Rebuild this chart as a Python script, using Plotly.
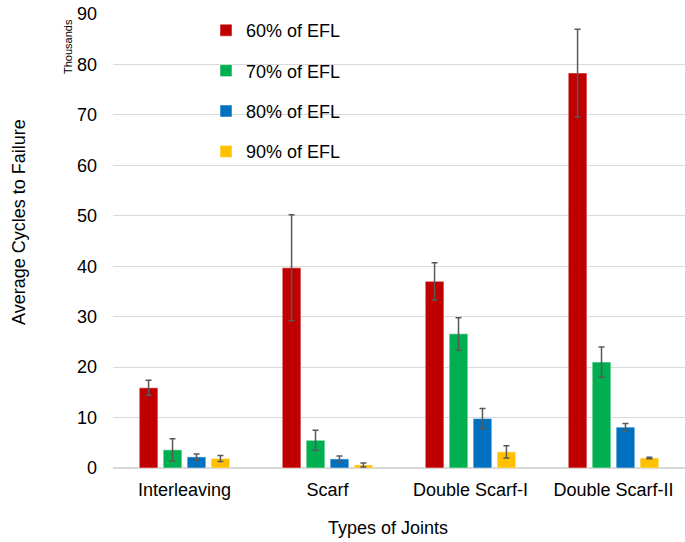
import plotly.graph_objects as go

categories = ["Interleaving", "Scarf", "Double Scarf-I", "Double Scarf-II"]
series_names = ["60% of EFL", "70% of EFL", "80% of EFL", "90% of EFL"]
colors = ["#C00000", "#00B050", "#0070C0", "#FFC000"]

# values in thousands of cycles
v60 = [15.9, 39.7, 37.0, 78.3]
v70 = [3.6, 5.5, 26.6, 21.0]
v80 = [2.2, 1.8, 9.8, 8.1]
v90 = [1.9, 0.6, 3.2, 2.0]

e60 = [1.5, 10.5, 3.7, 8.7]
e70 = [2.2, 2.0, 3.2, 3.0]
e80 = [0.6, 0.6, 2.0, 0.7]
e90 = [0.6, 0.4, 1.2, 0.15]

values = [v60, v70, v80, v90]
errors = [e60, e70, e80, e90]

fig = go.Figure()
for i, (name, vals, errs, col) in enumerate(zip(series_names, values, errors, colors)):
    fig.add_trace(go.Bar(
        x=categories, y=vals, name=name,
        marker=dict(color=col, line=dict(color="rgba(255,255,255,0.5)", width=1)),
        error_y=dict(type="data", array=errs, visible=True, color="#595959",
                     thickness=1.5, width=3),
        legendgroup=f"g{i}",
    ))

font = "Liberation Sans, Arial, sans-serif"
L, R, T, B = 113, 0, 14, 74
W, H = 685, 542
pw = W - L - R
ph = H - T - B


def px_x(x):
    return (x - L) / pw


def px_y(y):
    return (H - B - y) / ph


fig.update_layout(
    width=W, height=H,
    margin=dict(l=L, r=R, t=T, b=B, autoexpand=False),
    paper_bgcolor="white", plot_bgcolor="white",
    barmode="group", bargap=0.33, bargroupgap=0.22,
    font=dict(family=font, size=18, color="#000000"),
    showlegend=True,
    legend=dict(x=px_x(206), y=px_y(12), xanchor="left", yanchor="top",
                bgcolor="rgba(0,0,0,0)", tracegroupgap=14,
                font=dict(size=18, family=font), itemwidth=30),
    yaxis=dict(range=[0, 90], dtick=10, showgrid=True, gridcolor="#D9D9D9",
               gridwidth=1, zeroline=True, zerolinecolor="#D9D9D9",
               showline=False, ticks="", tickfont=dict(size=18),
               ticklabelstandoff=15, automargin=False),
    xaxis=dict(showline=False, ticks="", tickfont=dict(size=18), automargin=False,
               ticklabelstandoff=9),
    annotations=[
        dict(text="Thousands", x=px_x(68), y=px_y(47), xref="paper", yref="paper",
             showarrow=False, textangle=-90, xanchor="center", yanchor="middle",
             font=dict(size=11, family=font)),
        dict(text="Average Cycles to Failure", x=px_x(19), y=px_y(222),
             xref="paper", yref="paper", showarrow=False, textangle=-90,
             xanchor="center", yanchor="middle", font=dict(size=18, family=font)),
        dict(text="Types of Joints", x=px_x(388), y=px_y(528),
             xref="paper", yref="paper", showarrow=False,
             xanchor="center", yanchor="middle", font=dict(size=18, family=font)),
    ],
)

fig.write_html("out.html", config={"displayModeBar": False},
               post_script="document.body.style.margin='0';")
